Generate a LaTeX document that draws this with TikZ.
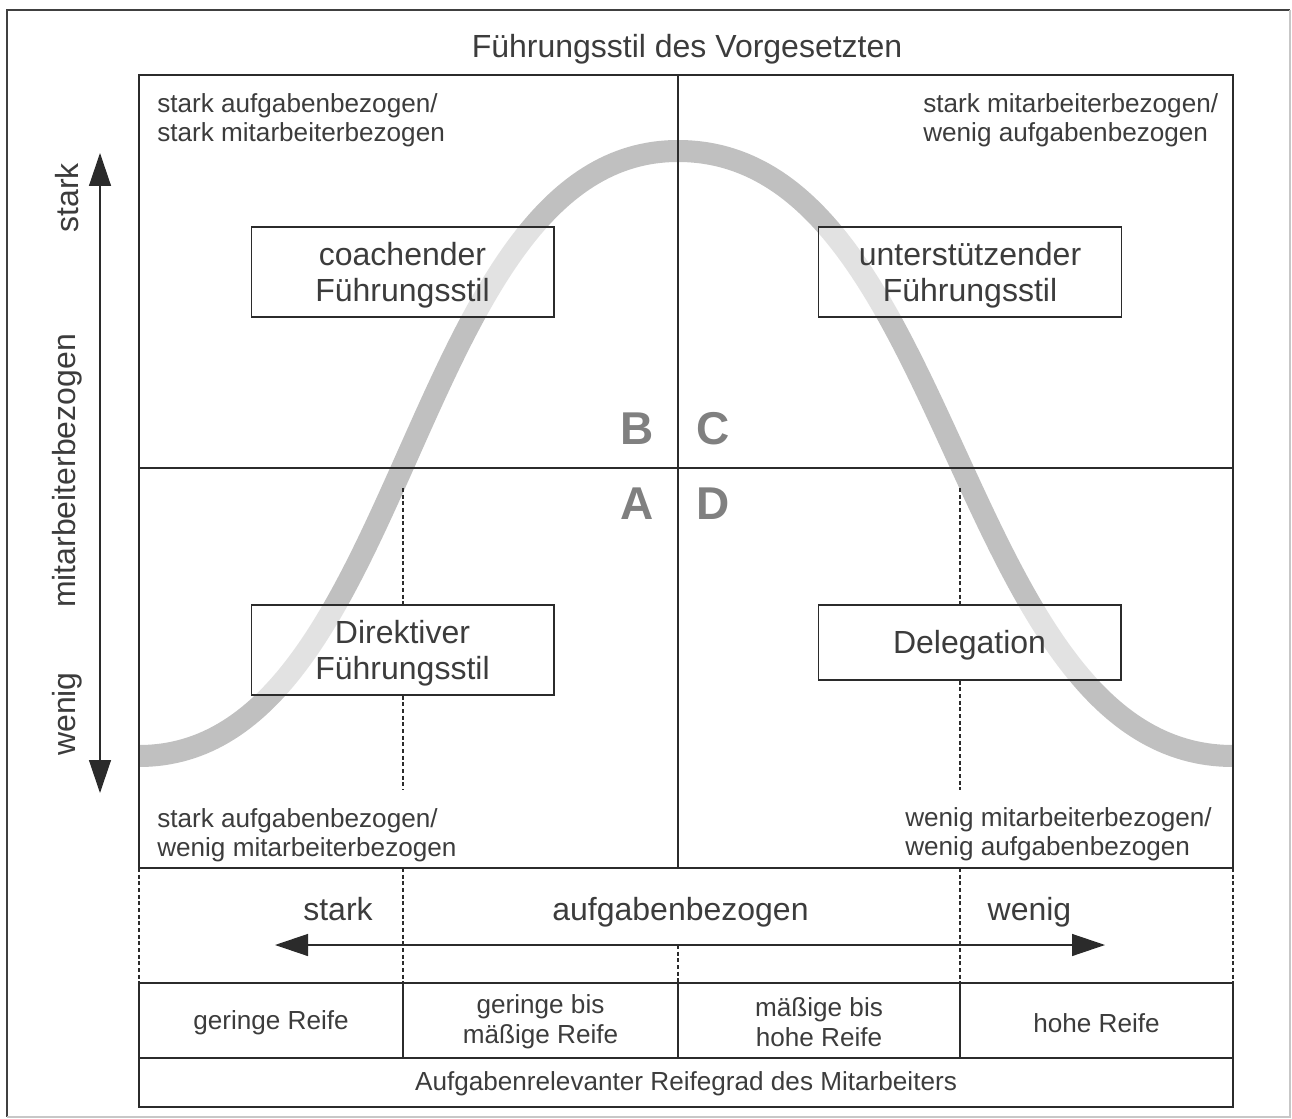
\documentclass[tikz,border=0pt]{standalone}
\usepackage{fontspec}
\setmainfont{Liberation Sans}
\usetikzlibrary{arrows.meta}
\definecolor{ink}{HTML}{3C3C3C}
\definecolor{rule}{HTML}{2B2B2B}
\definecolor{curvegray}{HTML}{C0C0C0}
\definecolor{lettergray}{HTML}{808080}
\begin{document}
\begin{tikzpicture}[x=0.75pt,y=-0.75pt,
  rulel/.style={draw=rule,line width=1pt},
  guide/.style={draw=rule,line width=0.8pt,dash pattern=on 3pt off 2pt},
  stylebox/.style={draw=rule,line width=1pt,fill=white,fill opacity=0.55,
    inner sep=0pt,minimum width=227pt},
  boxtext/.style={inner sep=0pt,text=ink,align=center,
    font=\fontsize{24}{27}\selectfont},
  corner/.style={anchor=north west,align=left,inner sep=0pt,text=ink,
    font=\fontsize{19.6}{21.75}\selectfont},
  biglabel/.style={inner sep=0pt,text=ink,font=\fontsize{24}{26}\selectfont},
  cell/.style={inner sep=0pt,text=ink,align=center,
    font=\fontsize{19.6}{22.5}\selectfont},
  quad/.style={inner sep=0pt,text=lettergray,font=\fontsize{34.5}{36}\selectfont\bfseries},
  bigarrow/.style={draw=rule,line width=1pt,
    {Triangle[length=24.75pt,width=16.5pt]}-{Triangle[length=24.75pt,width=16.5pt]}}
]
\useasboundingbox (0,0) rectangle (1292,1119);

% outer frame
\draw[black!75,line width=1.5pt] (7,1117) -- (7,10) -- (1290,10);
\draw[black!22,line width=1.2pt] (1290,10) -- (1290,1117) -- (7,1117);

% title
\node[biglabel,anchor=base] (title) at (687,58) {Führungsstil des Vorgesetzten};

% bell curve of the leadership style
\draw[curvegray,line width=16.5pt] (139,756)
  .. controls (408.5,756) and (408.5,151) .. (678,151)
  .. controls (955.5,151) and (955.5,756) .. (1233,756);

% quadrant grid
\coordinate (gnw) at (139,75);
\coordinate (gse) at (1233,868);
\coordinate (gtop) at (678,75);
\coordinate (gbot) at (678,868);
\coordinate (gleft) at (139,468);
\coordinate (gright) at (1233,468);
\draw[rulel] (gnw) rectangle (gse);
\draw[rulel] (gtop) -- (gbot);
\draw[rulel] (gleft) -- (gright);

% quadrant letters
\node[quad] (qB) at (637.5,428.5) {B};
\node[quad] (qC) at (713,428.5) {C};
\node[quad] (qA) at (637.5,504) {A};
\node[quad] (qD) at (713.5,504) {D};

% corner descriptions
\node[corner] (tl) at (157,93) {stark aufgabenbezogen/\\stark mitarbeiterbezogen};
\node[corner] (tr) at (923,93) {stark mitarbeiterbezogen/\\wenig aufgabenbezogen};
\node[corner] (bl) at (157,808) {stark aufgabenbezogen/\\wenig mitarbeiterbezogen};
\node[corner] (br) at (905,807) {wenig mitarbeiterbezogen/\\wenig aufgabenbezogen};

% style boxes
\node[stylebox,minimum height=67.5pt] (coach) at (402.5,272) {};
\node[stylebox,minimum height=67.5pt] (support) at (970,272) {};
\node[stylebox,minimum height=67.5pt] (direct) at (402.5,650) {};
\node[stylebox,minimum height=56.25pt] (deleg) at (969.5,642.5) {};
\node[boxtext] (coachtxt) at (402.5,275) {coachender\\Führungsstil};
\node[boxtext] (supporttxt) at (970,275) {unterstützender\\Führungsstil};
\node[boxtext] (directtxt) at (402.5,653) {Direktiver\\Führungsstil};
\node[boxtext] (delegtxt) at (969.5,645) {Delegation};

% dotted guides at the inflection points
\coordinate (la) at (403,488);
\coordinate (lb) at (403,790);
\coordinate (ra) at (960,488);
\coordinate (rb) at (960,790);
\draw[guide] (la) -- (direct.north -| la);
\draw[guide] (direct.south -| la) -- (lb);
\draw[guide] (ra) -- (deleg.north -| ra);
\draw[guide] (deleg.south -| ra) -- (rb);

% vertical axis
\coordinate (vtop) at (100,153);
\coordinate (vbot) at (100,793);
\draw[bigarrow] (vbot) -- (vtop);
\node[biglabel,rotate=90] (vstark) at (67,198) {stark};
\node[biglabel,rotate=90] (vmid) at (67,471) {mitarbeiterbezogen};
\node[biglabel,rotate=90] (vwenig) at (67,714) {wenig};

% horizontal band
\coordinate (b1) at (139,868);
\coordinate (b1e) at (139,983);
\coordinate (b2) at (403,868);
\coordinate (b2e) at (403,983);
\coordinate (b3) at (678,945);
\coordinate (b3e) at (678,983);
\coordinate (b4) at (960,868);
\coordinate (b4e) at (960,983);
\coordinate (b5) at (1233,868);
\coordinate (b5e) at (1233,983);
\draw[guide] (b1) -- (b1e);
\draw[guide] (b2) -- (b2e);
\draw[guide] (b3) -- (b3e);
\draw[guide] (b4) -- (b4e);
\draw[guide] (b5) -- (b5e);

\coordinate (hleft) at (275,945);
\coordinate (hright) at (1105,945);
\draw[bigarrow] (hleft) -- (hright);
\node[biglabel,anchor=base] (hstark) at (338,920) {stark};
\node[biglabel,anchor=base] (hmid) at (680.5,920) {aufgabenbezogen};
\node[biglabel,anchor=base] (hwenig) at (1029.5,920) {wenig};

% maturity table
\draw[rulel] (139,983) rectangle (1233,1107);
\draw[rulel] (139,1058) -- (1233,1058);
\draw[rulel] (403,983) -- (403,1058);
\draw[rulel] (678,983) -- (678,1058);
\draw[rulel] (960,983) -- (960,1058);
\node[cell] (m1) at (271,1023) {geringe Reife};
\node[cell] (m2) at (540.5,1022) {geringe bis\\mäßige Reife};
\node[cell] (m3) at (819,1022) {mäßige bis\\hohe Reife};
\node[cell] (m4) at (1096.5,1023) {hohe Reife};
\node[cell] (mall) at (686,1084) {Aufgabenrelevanter Reifegrad des Mitarbeiters};
\end{tikzpicture}
\end{document}
